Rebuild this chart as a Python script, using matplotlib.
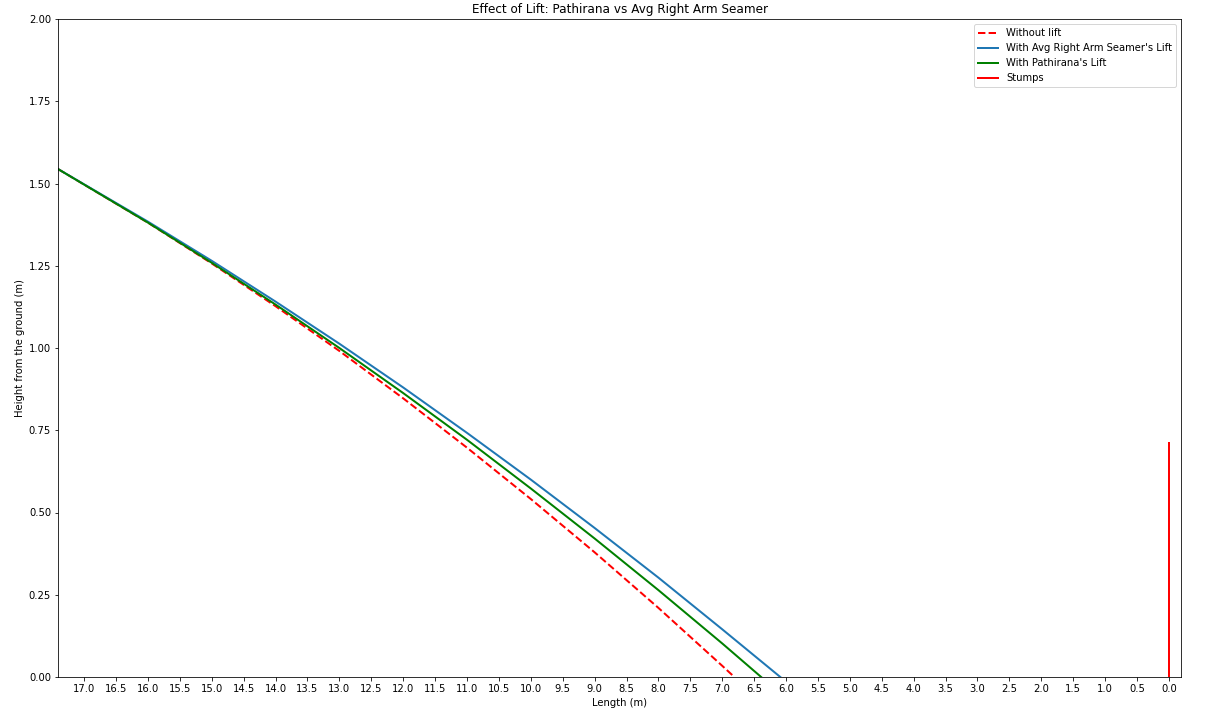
import numpy as np
import matplotlib
matplotlib.use("Agg")
import matplotlib.pyplot as plt

# distance from the stumps (m)
length_no_lift = [17.41, 16.0, 15.0, 14.0, 13.0, 12.0, 11.0, 10.0, 9.0, 8.0, 7.0, 6.81]
height_no_lift = [1.544, 1.381, 1.257, 1.127, 0.991, 0.847, 0.697, 0.541, 0.379, 0.210, 0.034, 0.0]

length_avg = [17.41, 16.0, 15.0, 14.0, 13.0, 12.0, 11.0, 10.0, 9.0, 8.0, 7.0, 6.09]
height_avg = [1.544, 1.384, 1.265, 1.141, 1.013, 0.880, 0.742, 0.600, 0.453, 0.302, 0.145, 0.0]

length_pathirana = [17.41, 16.0, 15.0, 14.0, 13.0, 12.0, 11.0, 10.0, 9.0, 8.0, 7.0, 6.39]
height_pathirana = [1.544, 1.381, 1.259, 1.132, 1.000, 0.863, 0.721, 0.573, 0.421, 0.264, 0.102, 0.0]

stumps_x = [0.0, 0.0]
stumps_y = [0.0, 0.71]

fig = plt.figure(figsize=(1211 / 72, 717 / 72), dpi=72)
ax = fig.add_axes([58 / 1211, 1 - 677 / 717, (1181 - 58) / 1211, (677 - 19) / 717])

ax.plot(length_no_lift, height_no_lift, "r--", lw=2, label="Without lift")
ax.plot(length_avg, height_avg, color="#1f77b4", lw=2, label="With Avg Right Arm Seamer's Lift")
ax.plot(length_pathirana, height_pathirana, color="green", lw=2, label="With Pathirana's Lift")
ax.plot(stumps_x, stumps_y, "r-", lw=2, label="Stumps")

ax.set_xlim(17.41, -0.19)
ax.set_ylim(0, 2.0)
ax.set_xticks(np.arange(0, 17.5, 0.5))
ax.set_yticks(np.arange(0, 2.01, 0.25))
ax.set_xlabel("Length (m)")
ax.set_ylabel("Height from the ground (m)")
ax.set_title("Effect of Lift: Pathirana vs Avg Right Arm Seamer")
ax.legend(loc="upper right")

fig.savefig("out.png", dpi=72)
